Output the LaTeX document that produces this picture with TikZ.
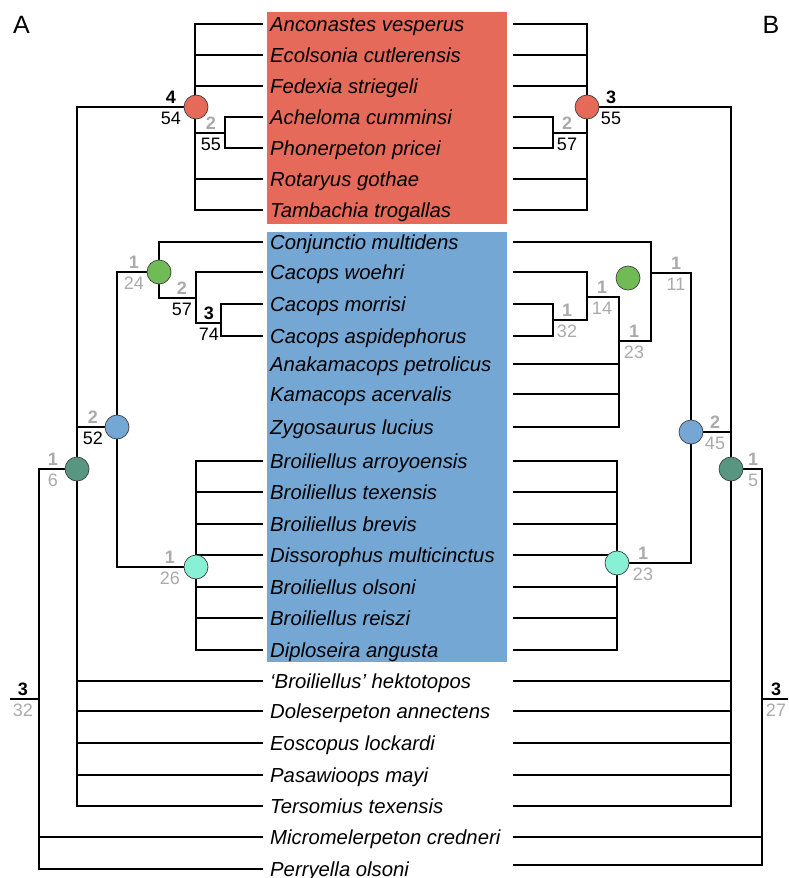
\documentclass[tikz,border=0pt]{standalone}
\usepackage{fontspec}
\setmainfont{Liberation Sans}
\definecolor{boxred}{RGB}{229,106,90}
\definecolor{boxblue}{RGB}{117,167,213}
\definecolor{cgreen}{RGB}{112,187,85}
\definecolor{cblue}{RGB}{117,167,213}
\definecolor{cdark}{RGB}{88,150,130}
\definecolor{ccyan}{RGB}{136,240,212}
\definecolor{labgray}{RGB}{170,170,170}
\newcommand\supp[7]{%
  \node[toplab,text=#5] (#1t) at (#2,#3-3.5) {#4};
  \node[botlab,text=#7] (#1b) at (#2,#3+17) {#6};}
\begin{document}
\begin{tikzpicture}[x=1pt,y=-1pt,
  branch/.style={line width=1.6pt,line join=miter},
  taxon/.style={anchor=base west,inner sep=0pt,font=\fontsize{20.3}{24}\selectfont\itshape},
  toplab/.style={anchor=base,inner sep=0pt,font=\fontsize{18}{20}\selectfont\bfseries},
  botlab/.style={anchor=base,inner sep=0pt,font=\fontsize{18}{20}\selectfont},
  clade/.style={circle,draw=black!75,line width=0.7pt,minimum size=24pt,inner sep=0pt},
  panel/.style={anchor=base,inner sep=0pt,font=\fontsize{25}{28}\selectfont}]
\useasboundingbox (0,0) rectangle (788,878);
% coloured boxes
\fill[boxred] (267,12) rectangle (507,224);
\fill[boxblue] (267,232) rectangle (507,662);
% taxon end points
\foreach \i/\y in {0/24,1/55,2/86,3/117,4/148,5/179,6/210,7/242,8/272,9/304,10/336,11/364,12/394,13/427,14/461,15/492,16/524,17/555,18/587,19/618,20/650,21/681,22/711,23/743,24/775,25/806,26/837,27/869}{
  \coordinate (tL\i) at (263,\y);
}
\foreach \i/\y in {0/24,1/55,2/86,3/117,4/148,5/179,6/210,7/242,8/272,9/304,10/336,11/364,12/394,13/427,14/461,15/492,16/524,17/555,18/587,19/618,20/650,21/681,22/711,23/743,24/775,25/806,26/837,27/865}{
  \coordinate (tR\i) at (513,\y);
}
% ---------- tree A ----------
\coordinate (rootAs) at (10,699);
\coordinate (rootA) at (39,699);
\coordinate (dgA) at (77,469);
\coordinate (redA) at (195,107);
\coordinate (redsubA) at (225,133);
\coordinate (blueA) at (117,427);
\coordinate (greenA) at (159,272);
\coordinate (g2A) at (196,298);
\coordinate (cacA) at (221,323);
\coordinate (cyanA) at (196,567);
\draw[branch] (rootAs) -- (rootA);
\foreach \t in {dgA,tL26,tL27} \draw[branch] (rootA) |- (\t);
\foreach \t in {redA,blueA,tL21,tL22,tL23,tL24,tL25} \draw[branch] (dgA) |- (\t);
\foreach \t in {tL0,tL1,tL2,tL5,tL6,redsubA} \draw[branch] (redA) |- (\t);
\foreach \t in {tL3,tL4} \draw[branch] (redsubA) |- (\t);
\foreach \t in {greenA,cyanA} \draw[branch] (blueA) |- (\t);
\foreach \t in {tL7,g2A} \draw[branch] (greenA) |- (\t);
\foreach \t in {tL8,cacA} \draw[branch] (g2A) |- (\t);
\foreach \t in {tL9,tL10} \draw[branch] (cacA) |- (\t);
\foreach \t in {tL14,tL15,tL16,tL17,tL18,tL19,tL20} \draw[branch] (cyanA) |- (\t);
% ---------- tree B ----------
\coordinate (rootBs) at (788,699);
\coordinate (rootB) at (762,699);
\coordinate (dgB) at (731,469);
\coordinate (redB) at (587,107);
\coordinate (redsubB) at (553,133);
\coordinate (blueB) at (691,432);
\coordinate (xB) at (651,273);
\coordinate (yB) at (619,341);
\coordinate (zB) at (587,297);
\coordinate (wB) at (553,320);
\coordinate (cyanB) at (617,563);
\coordinate (greenB) at (628,278);
\draw[branch] (rootBs) -- (rootB);
\foreach \t in {dgB,tR26,tR27} \draw[branch] (rootB) |- (\t);
\foreach \t in {redB,blueB,tR21,tR22,tR23,tR24,tR25} \draw[branch] (dgB) |- (\t);
\foreach \t in {tR0,tR1,tR2,tR5,tR6,redsubB} \draw[branch] (redB) |- (\t);
\foreach \t in {tR3,tR4} \draw[branch] (redsubB) |- (\t);
\foreach \t in {xB,cyanB} \draw[branch] (blueB) |- (\t);
\foreach \t in {tR7,yB} \draw[branch] (xB) |- (\t);
\foreach \t in {zB,tR11,tR12,tR13} \draw[branch] (yB) |- (\t);
\foreach \t in {tR8,wB} \draw[branch] (zB) |- (\t);
\foreach \t in {tR9,tR10} \draw[branch] (wB) |- (\t);
\foreach \t in {tR14,tR15,tR16,tR17,tR18,tR19,tR20} \draw[branch] (cyanB) |- (\t);
% ---------- clade circles ----------
\node[clade,fill=boxred] (cRA) at (196,107) {};
\node[clade,fill=cgreen] (cGA) at (greenA) {};
\node[clade,fill=cblue] (cBA) at (blueA) {};
\node[clade,fill=cdark] (cDA) at (dgA) {};
\node[clade,fill=ccyan] (cCA) at (cyanA) {};
\node[clade,fill=boxred] (cRB) at (redB) {};
\node[clade,fill=cgreen] (cGB) at (greenB) {};
\node[clade,fill=cblue] (cBB) at (blueB) {};
\node[clade,fill=cdark] (cDB) at (dgB) {};
\node[clade,fill=ccyan] (cCB) at (cyanB) {};
% ---------- taxa ----------
\foreach \i/\y/\name in {0/24/Anconastes vesperus,1/55/Ecolsonia cutlerensis,2/86/Fedexia striegeli,3/117/Acheloma cumminsi,4/148/Phonerpeton pricei,5/179/Rotaryus gothae,6/210/Tambachia trogallas,7/242/Conjunctio multidens,8/272/Cacops woehri,9/304/Cacops morrisi,10/336/Cacops aspidephorus,11/364/Anakamacops petrolicus,12/394/Kamacops acervalis,13/427/Zygosaurus lucius,14/461/Broiliellus arroyoensis,15/492/Broiliellus texensis,16/524/Broiliellus brevis,17/555/Dissorophus multicinctus,18/587/Broiliellus olsoni,19/618/Broiliellus reiszi,20/650/Diploseira angusta,21/681/‘Broiliellus’ hektotopos,22/711/Doleserpeton annectens,23/743/Eoscopus lockardi,24/775/Pasawioops mayi,25/806/Tersomius texensis,26/837/Micromelerpeton credneri,27/869/Perryella olsoni}{
  \node[taxon] (tx\i) at (270,\y+7) {\name};
}
% ---------- support labels ----------
\supp{sRA}{171}{107}{4}{black}{54}{black}
\supp{sRSA}{211}{133}{2}{labgray}{55}{black}
\supp{sGA}{134}{272}{1}{labgray}{24}{labgray}
\supp{sG2A}{182}{298}{2}{labgray}{57}{black}
\supp{sCA}{209}{323}{3}{black}{74}{black}
\supp{sBA}{93}{427}{2}{labgray}{52}{black}
\supp{sDA}{53}{469}{1}{labgray}{6}{labgray}
\supp{sCyA}{170}{567}{1}{labgray}{26}{labgray}
\supp{sRoA}{23}{699}{3}{black}{32}{labgray}
\supp{sRB}{611}{107}{3}{black}{55}{black}
\supp{sRSB}{567}{133}{2}{labgray}{57}{black}
\supp{sXB}{676}{273}{1}{labgray}{11}{labgray}
\supp{sZB}{602}{297}{1}{labgray}{14}{labgray}
\supp{sWB}{567}{320}{1}{labgray}{32}{labgray}
\supp{sYB}{634}{341}{1}{labgray}{23}{labgray}
\supp{sBB}{715}{432}{2}{labgray}{45}{labgray}
\supp{sDB}{753}{469}{1}{labgray}{5}{labgray}
\supp{sCyB}{643}{563}{1}{labgray}{23}{labgray}
\supp{sRoB}{776}{699}{3}{black}{27}{labgray}
% panel letters
\node[panel] (pA) at (21.5,33) {A};
\node[panel] (pB) at (771,33) {B};
\end{tikzpicture}
\end{document}
